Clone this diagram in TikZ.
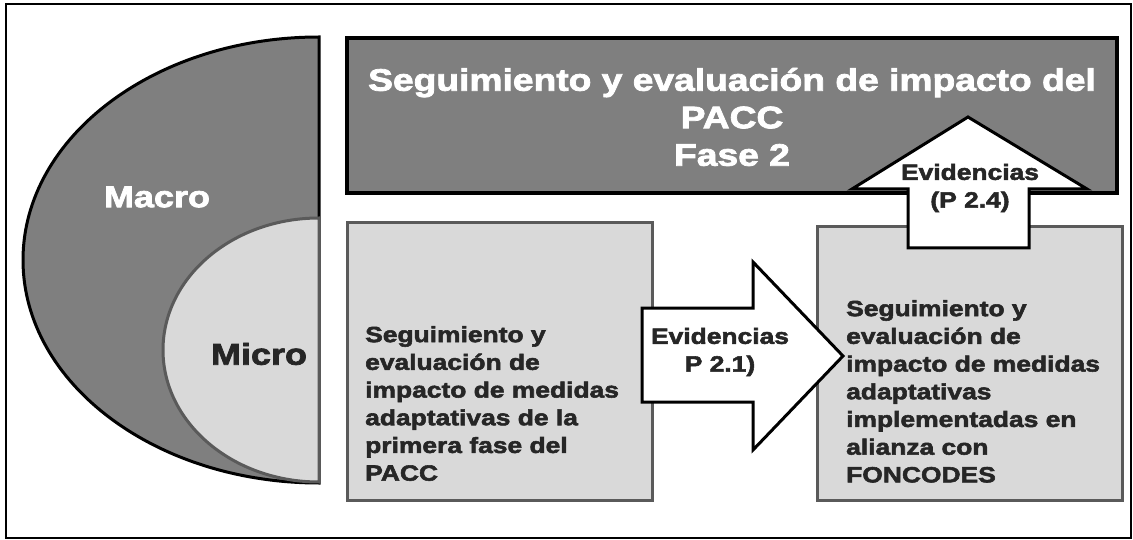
\documentclass[tikz,border=0pt]{standalone}
\usepackage{fontspec}
\setmainfont{Liberation Sans}
\newfontfamily\blk{Liberation Sans Bold}[FakeBold=2.5,FakeStretch=1.2]
\definecolor{darkfill}{HTML}{7F7F7F}
\definecolor{lightfill}{HTML}{D9D9D9}
\definecolor{lightedge}{HTML}{5A5A5A}
\definecolor{txt}{HTML}{262626}
\begin{document}
\begin{tikzpicture}[x=1pt,y=-1pt,
  darkbox/.style={draw=black,line width=3.4pt,fill=darkfill},
  lightbox/.style={draw=lightedge,line width=3pt,fill=lightfill},
  blockarrow/.style={draw=black,line width=3pt,fill=white,line join=miter},
  bodytxt/.style={inner sep=0pt,text=txt,align=left,font=\blk\fontsize{22}{27.7}\selectfont},
  titletxt/.style={inner sep=0pt,text=white,align=center,font=\blk\fontsize{31}{37.5}\selectfont},
  bigtxt/.style={inner sep=0pt,font=\blk\fontsize{30}{36}\selectfont}]
\useasboundingbox (0,0) rectangle (1133,540);
% outer frame
\draw[line width=1.6pt] (6,4) rectangle (1131,538);
% Macro half ellipse
\path[darkbox,line width=3pt] (319,218) -- (319,37) arc[start angle=-90,end angle=-270,x radius=296,y radius=223] -- cycle;
% Micro half ellipse
\path[lightbox] (319,218) arc[start angle=-90,end angle=-270,x radius=156,y radius=132] -- cycle;
\node[bigtxt,text=white] (macro) at (157,197) {Macro};
\node[bigtxt,text=txt] (micro) at (259,354) {Micro};
% top box
\node[darkbox,minimum width=770pt,minimum height=155pt,inner sep=0pt] (top) at (732,115.5) {};
\node[titletxt] (title) at (732,117) {Seguimiento y evaluación de impacto del\\PACC\\Fase 2};
% lower boxes
\node[lightbox,minimum width=305pt,minimum height=277pt,inner sep=0pt] (left) at (499.5,361.5) {};
\node[lightbox,minimum width=305pt,minimum height=273pt,inner sep=0pt] (right) at (969.5,363.5) {};
% right arrow
\path[blockarrow] (642,308) -- (753,308) -- (753,262) -- (843,356) -- (753,450) -- (753,402) -- (642,402) -- cycle;
% up arrow
\path[blockarrow] (908,248) -- (908,189) -- (852,189) -- (968,117) -- (1087,189) -- (1029,189) -- (1029,248) -- cycle;
% texts
\node[bodytxt,anchor=north west] (lefttxt) at (365,326) {Seguimiento y\\evaluación de\\impacto de medidas\\adaptativas de la\\primera fase del\\PACC};
\node[bodytxt,anchor=north west] (righttxt) at (846,300) {Seguimiento y\\evaluación de\\impacto de medidas\\adaptativas\\implementadas en\\alianza con\\FONCODES};
\node[bodytxt,align=center] (ev1) at (720,352) {Evidencias\\P 2.1)};
\node[bodytxt,align=center] (ev2) at (970,188) {Evidencias\\(P 2.4)};
\end{tikzpicture}
\end{document}
